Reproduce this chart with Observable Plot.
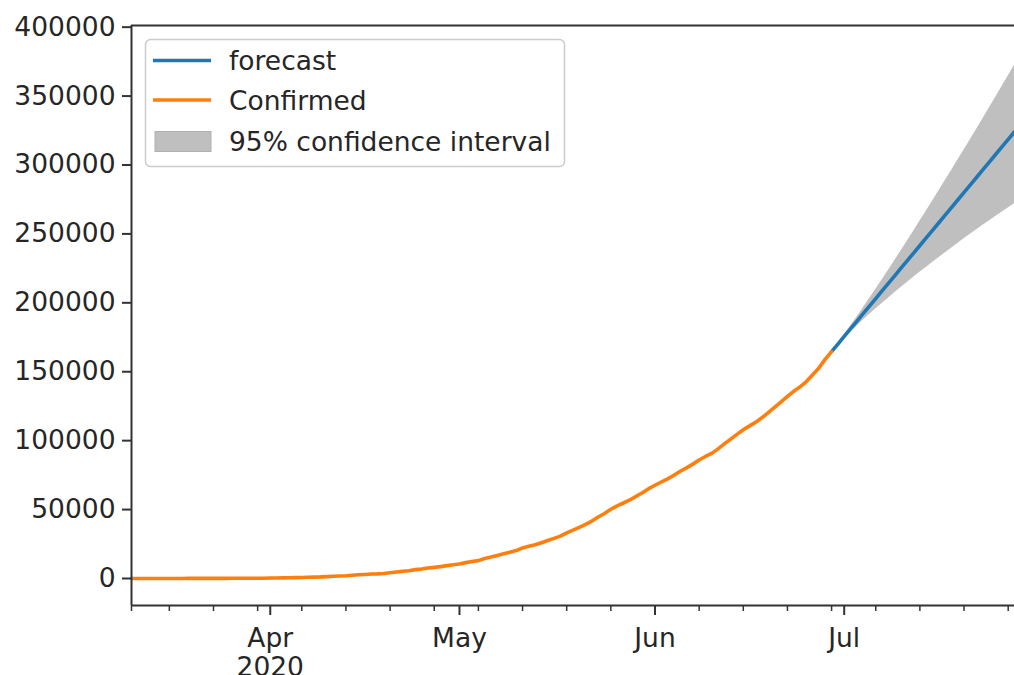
<!DOCTYPE html>
<html>
<head>
<meta charset="utf-8">
<script src="https://cdn.jsdelivr.net/npm/d3@7"></script>
<script src="https://cdn.jsdelivr.net/npm/@observablehq/plot@0.6"></script>
<style>
  html, body { margin: 0; padding: 0; background: #fff; }
  svg { display: block; }
</style>
</head>
<body>
<div id="chart"></div>
<script>
// ---- data ----
const confirmedStart = "2020-03-10";
const confirmed = [
  2, 5, 11, 14, 17, 26, 32, 39, 41, 45, 48, 52, 64, 74, 97, 107, 122, 130, 153, 186, 203, 220,
  302, 335, 423, 490, 635, 748, 868, 1018, 1135, 1364, 1574, 1761, 1982, 2334, 2687, 2919, 3202,
  3323, 3651, 4203, 4669, 5218, 5652, 6427, 6817, 7628, 8068, 8590, 9318, 9915,
  10498, 11506, 12296, 12974, 14541, 15525, 16758, 17974, 19063, 20228, 22171, 23401, 24427,
  25922, 27524, 29100, 30706, 33053, 35058, 37136, 39297, 41642, 44582, 47190, 50231, 52667,
  54758, 56948, 59546, 62228, 65168,
  67655, 70013, 72300, 74860, 77793, 80229, 82968, 85975, 88528, 90787, 94041, 97648, 101141,
  104568, 107958, 110744, 113445, 116752, 120504, 124331, 128205, 132075, 135796, 139010,
  142900, 147741, 152765, 159133, 164626
];
const forecastStart = "2020-06-29";
const forecast = [
  164626, 170100, 175600, 181100, 186600, 192100, 197600, 203100, 208600, 214100, 219600,
  225100, 230600, 236100, 241600, 247100, 252600, 258100, 263600, 269100, 274600, 280100,
  285600, 291100, 296600, 302100, 307600, 313100, 318600, 324100
];
const ciStart = "2020-06-30";
const ciLower = [
  169600, 174200, 178700, 183000, 187300, 191500, 195500, 199500, 203400, 207300, 211100,
  214800, 218500, 222100, 225700, 229300, 232700, 236200, 239600, 243000, 246400, 249700,
  253000, 256200, 259400, 262600, 265700, 268800, 271800
];
const ciUpper = [
  170500, 176700, 183100, 189600, 196200, 202900, 209700, 216600, 223500, 230500, 237600,
  244700, 251900, 259100, 266400, 273700, 281100, 288500, 295900, 303400, 310900, 318400,
  326000, 333600, 341300, 349000, 356700, 364500, 372300
];
const xDomain = ["2020-03-10", "2020-07-28"];
const yDomain = [-19600, 401200];
const yTicks = [0, 50000, 100000, 150000, 200000, 250000, 300000, 350000, 400000];
const majorTicks = ["2020-04-01", "2020-05-01", "2020-06-01", "2020-07-01"];
const majorLabels = ["Apr\n2020", "May", "Jun", "Jul"];
const minorTicks = ["2020-03-10", "2020-03-16", "2020-03-23", "2020-03-30", "2020-04-06", "2020-04-13",
  "2020-04-20", "2020-04-27", "2020-05-04", "2020-05-11", "2020-05-18", "2020-05-25",
  "2020-06-08", "2020-06-15", "2020-06-22", "2020-06-29", "2020-07-06", "2020-07-13",
  "2020-07-20", "2020-07-27"];
const legendLabels = ["forecast", "Confirmed", "95% confidence interval"];
const colors = { forecast: "#1f77b4", confirmed: "#ff7f0e", ci: "#bfbfbf" };

// ---- tables ----
const day = (s, i) => d3.utcDay.offset(new Date(s + "T00:00:00Z"), i);
const confirmedData = confirmed.map((v, i) => ({ date: day(confirmedStart, i), value: v }));
const forecastData = forecast.map((v, i) => ({ date: day(forecastStart, i), value: v }));
const ciData = ciLower.map((v, i) => ({ date: day(ciStart, i), lower: v, upper: ciUpper[i] }));
const toDate = s => new Date(s + "T00:00:00Z");
const majorDates = majorTicks.map(toDate);
const labelFor = new Map(majorDates.map((d, i) => [+d, majorLabels[i]]));

const spine = "#333";
const font = "DejaVu Sans";
const fs = 26.5;

const plot = Plot.plot({
  width: 1014,
  height: 675,
  marginLeft: 131,
  marginRight: 0,
  marginTop: 25,
  marginBottom: 70,
  style: { fontFamily: font, fontSize: fs + "px", color: "#262626", background: "#fff", overflow: "visible" },
  x: { type: "utc", domain: xDomain.map(toDate) },
  y: { domain: yDomain },
  marks: [
    Plot.areaY(ciData, { x: "date", y1: "lower", y2: "upper", fill: colors.ci }),
    Plot.lineY(forecastData, { x: "date", y: "value", stroke: colors.forecast, strokeWidth: 3.6 }),
    Plot.lineY(confirmedData, { x: "date", y: "value", stroke: colors.confirmed, strokeWidth: 3.6 }),
    Plot.ruleX([toDate(xDomain[0])], { stroke: spine, strokeWidth: 2 }),
    Plot.ruleY([yDomain[0]], { stroke: spine, strokeWidth: 2 }),
    Plot.ruleY([yDomain[1]], { stroke: spine, strokeWidth: 2 }),
    Plot.axisY(yTicks, { tickSize: 9, tickPadding: 7, tickFormat: d => String(d), stroke: spine, strokeWidth: 2, fill: "#262626", fontSize: fs, label: null }),
    Plot.axisX(majorDates, { tickSize: 10, tickPadding: 11, tickFormat: d => labelFor.get(+d), lineHeight: 1.1, stroke: spine, strokeWidth: 2, fill: "#262626", fontSize: fs, label: null }),
    Plot.axisX(minorTicks.map(toDate), { tickSize: 6, tickFormat: () => "", stroke: spine, strokeWidth: 1.5, label: null })
  ]
});

document.getElementById("chart").appendChild(plot);

// ---- legend ----
const svg = d3.select(plot);
const g = svg.append("g").attr("font-family", font).attr("font-size", fs).attr("fill", "#262626")
  .attr("text-anchor", "start");
g.append("rect").attr("x", 145.5).attr("y", 39.5).attr("width", 419).attr("height", 127)
  .attr("rx", 5).attr("fill", "#fff").attr("fill-opacity", 0.8).attr("stroke", "#cccccc").attr("stroke-width", 1.5);
const rows = [60.5, 100, 141.5];
g.append("line").attr("x1", 153).attr("x2", 211).attr("y1", rows[0]).attr("y2", rows[0])
  .attr("stroke", colors.forecast).attr("stroke-width", 3.6);
g.append("line").attr("x1", 153).attr("x2", 211).attr("y1", rows[1]).attr("y2", rows[1])
  .attr("stroke", colors.confirmed).attr("stroke-width", 3.6);
g.append("rect").attr("x", 155).attr("y", rows[2] - 10).attr("width", 56).attr("height", 20)
  .attr("fill", colors.ci).attr("stroke", "#b0b0b0").attr("stroke-width", 1);
legendLabels.forEach((t, i) => {
  g.append("text").attr("x", 229).attr("y", rows[i]).attr("dy", "0.36em").attr("text-anchor", "start").text(t);
});
</script>
</body>
</html>
